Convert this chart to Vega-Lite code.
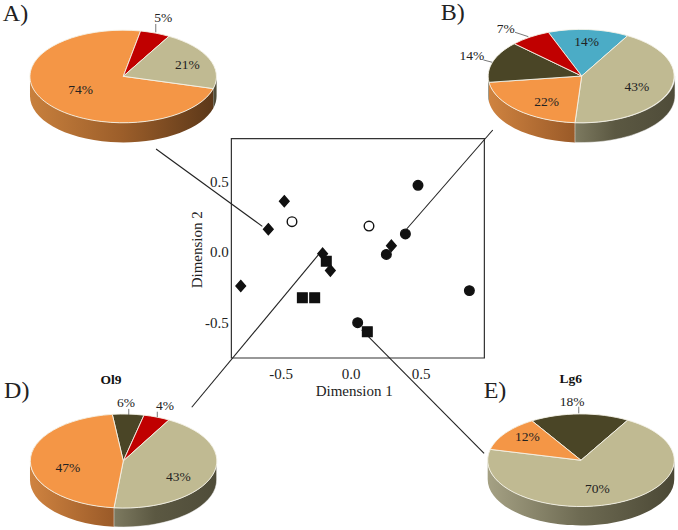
{
"$schema":"https://vega.github.io/schema/vega-lite/v6.json",
"width":678,"height":530,"padding":0,"autosize":{"type":"none"},"background":"white",
"config":{"view":{"stroke":null},"axis":{"grid":false,"labelFont":"Liberation Serif","titleFont":"Liberation Serif","labelFontSize":15,"titleFontSize":15,"titleFontWeight":"normal","labelColor":"#222","titleColor":"#222"}},
"encoding":{
"x":{"field":"dim1","type":"quantitative","scale":{"domain":[-2.5036,2.339],"nice":false,"zero":false},"axis":{"title":"Dimension 1","values":[-0.5,0,0.5],"format":".1f","labelExpr":"replace(datum.label,'\u2212','-')","offset":-172,"domain":false,"ticks":false,"labelPadding":8,"titlePadding":2,"labelFlush":false,"titleX":353.7}},
"y":{"field":"dim2","type":"quantitative","scale":{"domain":[-1.9716,1.787],"nice":false,"zero":false},"axis":{"title":"Dimension 2","values":[-0.5,0,0.5],"format":".1f","labelExpr":"replace(datum.label,'\u2212','-')","offset":-231.3,"domain":false,"ticks":false,"labelPadding":3,"titlePadding":0,"labelFlush":false,"titleY":249.3}}
},
"resolve":{"scale":{"shape":"independent","fill":"independent"}},
"layer":[
{"data":{"values":[{"dim1":-0.851,"dim2":0.804,"dim1b":0.956,"dim2b":-0.752}]},
 "mark":{"type":"rect","fill":null,"stroke":"#333","strokeWidth":1.2},
 "encoding":{"x2":{"field":"dim1b"},"y2":{"field":"dim2b"}}},
{"data":{"values":[
{"link":"A","dim1":-1.389,"dim2":0.73,"dim1b":-0.63,"dim2b":0.182},
{"link":"B","dim1":0.401,"dim2":0.163,"dim1b":1.016,"dim2b":0.865},
{"link":"D","dim1":-0.23,"dim2":-0.021,"dim1b":-1.134,"dim2b":-1.101},
{"link":"E","dim1":0.08,"dim2":-0.553,"dim1b":0.954,"dim2b":-1.428}]},
 "mark":{"type":"rule","stroke":"#222","strokeWidth":1.1},
 "encoding":{"x2":{"field":"dim1b"},"y2":{"field":"dim2b"}}},
{"data":{"values":[
{"group":"diamond","dim1":-0.587,"dim2":0.161},{"group":"diamond","dim1":-0.473,"dim2":0.36},{"group":"diamond","dim1":-0.784,"dim2":-0.241},{"group":"diamond","dim1":-0.199,"dim2":-0.012},{"group":"diamond","dim1":-0.144,"dim2":-0.132},{"group":"diamond","dim1":0.292,"dim2":0.045},
{"group":"square","dim1":-0.173,"dim2":-0.066},{"group":"square","dim1":-0.344,"dim2":-0.324},{"group":"square","dim1":-0.256,"dim2":-0.324},{"group":"square","dim1":0.12,"dim2":-0.565},
{"group":"circle","dim1":0.482,"dim2":0.473},{"group":"circle","dim1":0.392,"dim2":0.128},{"group":"circle","dim1":0.256,"dim2":-0.017},{"group":"circle","dim1":0.849,"dim2":-0.274},{"group":"circle","dim1":0.051,"dim2":-0.501},
{"group":"open","dim1":-0.418,"dim2":0.215},{"group":"open","dim1":0.132,"dim2":0.184}]},
 "mark":{"type":"point","filled":true,"opacity":1,"stroke":"#111","strokeWidth":1.4,"size":92},
 "encoding":{
  "shape":{"field":"group","type":"nominal","legend":null,"scale":{"domain":["diamond","square","circle","open"],"range":["M0,-1.15L1,0L0,1.15L-1,0Z","square","circle","circle"]}},
  "fill":{"field":"group","type":"nominal","legend":null,"scale":{"domain":["diamond","square","circle","open"],"range":["#111","#111","#111","#fff"]}}}},
{"data":{"values":[{"pie":"A","part":"orange","dim1":-1.623,"dim2":1.246}]},
 "mark":{"type":"point","opacity":1,"filled":true,"size":4,"shape":"M-93.3,0A93.3,46.3 0 0 0 90,12.3L90,32A93.3,46.3 0 0 1 -93.3,19.7Z","fill":{"gradient":"linear","x1":0,"y1":0,"x2":1,"y2":0,"stops":[{"offset":0,"color":"#c8803d"},{"offset":0.5,"color":"#9c5e2a"},{"offset":1,"color":"#5c3819"}]}}},
{"data":{"values":[{"pie":"A","part":"tan","dim1":-1.623,"dim2":1.246}]},
 "mark":{"type":"point","opacity":1,"filled":true,"size":4,"shape":"M90,12.3A93.3,46.3 0 0 0 93.3,0L93.3,19.7A93.3,46.3 0 0 1 90,32Z","fill":"#4f4c39"}},
{"data":{"values":[{"pie":"B","part":"orange","dim1":1.651,"dim2":1.248}]},
 "mark":{"type":"point","opacity":1,"filled":true,"size":4,"shape":"M-92.7,6.3A93.3,46.7 0 0 0 -6.7,46.7L-6.7,66.4A93.3,46.7 0 0 1 -92.7,26Z","fill":{"gradient":"linear","x1":0,"y1":0,"x2":1,"y2":0,"stops":[{"offset":0,"color":"#cf8340"},{"offset":1,"color":"#9a5a28"}]}}},
{"data":{"values":[{"pie":"B","part":"dark","dim1":1.651,"dim2":1.248}]},
 "mark":{"type":"point","opacity":1,"filled":true,"size":4,"shape":"M-93.3,0A93.3,46.7 0 0 0 -92.7,6.3L-92.7,26A93.3,46.7 0 0 1 -93.3,19.7Z","fill":"#5d5a45"}},
{"data":{"values":[{"pie":"B","part":"tan","dim1":1.651,"dim2":1.248}]},
 "mark":{"type":"point","opacity":1,"filled":true,"size":4,"stroke":"#eeeeee","strokeWidth":0.5,"shape":"M-6.7,46.7A93.3,46.7 0 0 0 93.3,0L93.3,19.7A93.3,46.7 0 0 1 -6.7,66.4Z","fill":{"gradient":"linear","x1":0,"y1":0,"x2":1,"y2":0,"stops":[{"offset":0,"color":"#7d7a60"},{"offset":0.4,"color":"#5b5842"},{"offset":1,"color":"#4f4c39"}]}}},
{"data":{"values":[{"pie":"D","part":"orange","dim1":-1.623,"dim2":-1.482}]},
 "mark":{"type":"point","opacity":1,"filled":true,"size":4,"shape":"M-93.3,0A93.3,47 0 0 0 -9.3,46.8L-9.3,65.8A93.3,47 0 0 1 -93.3,19Z","fill":{"gradient":"linear","x1":0,"y1":0,"x2":1,"y2":0,"stops":[{"offset":0,"color":"#cf8340"},{"offset":1,"color":"#9a5a28"}]}}},
{"data":{"values":[{"pie":"D","part":"tan","dim1":-1.623,"dim2":-1.482}]},
 "mark":{"type":"point","opacity":1,"filled":true,"size":4,"stroke":"#eeeeee","strokeWidth":0.5,"shape":"M-9.3,46.8A93.3,47 0 0 0 93.3,0L93.3,19A93.3,47 0 0 1 -9.3,65.8Z","fill":{"gradient":"linear","x1":0,"y1":0,"x2":1,"y2":0,"stops":[{"offset":0,"color":"#7d7a60"},{"offset":0.4,"color":"#5b5842"},{"offset":1,"color":"#4f4c39"}]}}},
{"data":{"values":[{"pie":"E","part":"tan","dim1":1.646,"dim2":-1.477}]},
 "mark":{"type":"point","opacity":1,"filled":true,"size":4,"shape":"M-93.3,0A93.3,46.3 0 0 0 93.3,0L93.3,19A93.3,46.3 0 0 1 -93.3,19Z","fill":{"gradient":"linear","x1":0,"y1":0,"x2":1,"y2":0,"stops":[{"offset":0,"color":"#a5a184"},{"offset":0.5,"color":"#6d6a52"},{"offset":1,"color":"#4b4835"}]}}},
{"data":{"values":[
{"wedge":"A-orange","part":"orange","share":74,"dim1":-1.623,"dim2":1.246},
{"wedge":"A-red","part":"red","share":5,"dim1":-1.623,"dim2":1.246},
{"wedge":"A-tan","part":"tan","share":21,"dim1":-1.623,"dim2":1.246},
{"wedge":"B-blue","part":"blue","share":14,"dim1":1.651,"dim2":1.248},
{"wedge":"B-tan","part":"tan","share":43,"dim1":1.651,"dim2":1.248},
{"wedge":"B-orange","part":"orange","share":22,"dim1":1.651,"dim2":1.248},
{"wedge":"B-dark","part":"dark","share":14,"dim1":1.651,"dim2":1.248},
{"wedge":"B-red","part":"red","share":7,"dim1":1.651,"dim2":1.248},
{"wedge":"D-dark","part":"dark","share":6,"dim1":-1.623,"dim2":-1.482},
{"wedge":"D-red","part":"red","share":4,"dim1":-1.623,"dim2":-1.482},
{"wedge":"D-tan","part":"tan","share":43,"dim1":-1.623,"dim2":-1.482},
{"wedge":"D-orange","part":"orange","share":47,"dim1":-1.623,"dim2":-1.482},
{"wedge":"E-dark","part":"dark","share":18,"dim1":1.646,"dim2":-1.477},
{"wedge":"E-tan","part":"tan","share":70,"dim1":1.646,"dim2":-1.477},
{"wedge":"E-orange","part":"orange","share":12,"dim1":1.646,"dim2":-1.477}]},
 "mark":{"type":"point","opacity":1,"filled":true,"size":4,"stroke":"#f4f2e6","strokeWidth":0.9},
 "encoding":{
 "shape":{"field":"wedge","type":"nominal","legend":null,"scale":{"domain":["A-orange","A-red","A-tan","B-blue","B-tan","B-orange","B-dark","B-red","D-dark","D-red","D-tan","D-orange","E-dark","E-tan","E-orange"],
 "range":[
 "M0,0L90,12.3A93.3,46.3 0 1 1 17.3,-45.3Z",
 "M0,0L17.3,-45.3A93.3,46.3 0 0 1 45.7,-40Z",
 "M0,0L45.7,-40A93.3,46.3 0 0 1 90,12.3Z",
 "M0,0L-33.3,-43.7A93.3,46.7 0 0 1 46,-40.3Z",
 "M0,0L46,-40.3A93.3,46.7 0 0 1 -6.7,46.7Z",
 "M0,0L-6.7,46.7A93.3,46.7 0 0 1 -92.7,6.3Z",
 "M0,0L-92.7,6.3A93.3,46.7 0 0 1 -67.3,-32.3Z",
 "M0,0L-67.3,-32.3A93.3,46.7 0 0 1 -33.3,-43.7Z",
 "M0,0L-11,-46.6A93.3,47 0 0 1 20.7,-45.8Z",
 "M0,0L20.7,-45.8A93.3,47 0 0 1 45.7,-41Z",
 "M0,0L45.7,-41A93.3,47 0 0 1 -9.3,46.8Z",
 "M0,0L-9.3,46.8A93.3,47 0 0 1 -11,-46.6Z",
 "M0,0L-49,-39.4A93.3,46.3 0 0 1 46.7,-40.1Z",
 "M0,0L46.7,-40.1A93.3,46.3 0 1 1 -90.7,-10.9Z",
 "M0,0L-90.7,-10.9A93.3,46.3 0 0 1 -49,-39.4Z"]}},
 "fill":{"field":"part","type":"nominal","legend":null,"scale":{"domain":["orange","tan","red","dark","blue"],"range":["#f49646","#c0ba92","#c00000","#4a4526","#4bacc6"]}}}},
{"data":{"values":[
{"leader":"A5","dim1":-1.391,"dim2":1.617,"dim1b":-1.391,"dim2b":1.558},
{"leader":"B7","dim1":1.175,"dim2":1.558,"dim1b":1.27,"dim2b":1.527},
{"leader":"B14","dim1":0.949,"dim2":1.362,"dim1b":1.013,"dim2b":1.345},
{"leader":"D6","dim1":-1.584,"dim2":-1.113,"dim1b":-1.584,"dim2b":-1.156},
{"leader":"D4","dim1":-1.38,"dim2":-1.133,"dim1b":-1.38,"dim2b":-1.172},
{"leader":"E18","dim1":1.63,"dim2":-1.097,"dim1b":1.63,"dim2b":-1.144}]},
 "mark":{"type":"rule","stroke":"#555","strokeWidth":0.8},
 "encoding":{"x2":{"field":"dim1b"},"y2":{"field":"dim2b"}}},
{"data":{"values":[
{"label":"74%","dim1":-1.927,"dim2":1.149},{"label":"21%","dim1":-1.166,"dim2":1.324},{"label":"5%","dim1":-1.337,"dim2":1.66},
{"label":"14%","dim1":1.687,"dim2":1.487},{"label":"43%","dim1":2.046,"dim2":1.172},{"label":"22%","dim1":1.401,"dim2":1.064},{"label":"7%","dim1":1.109,"dim2":1.584},{"label":"14%","dim1":0.866,"dim2":1.39},
{"label":"47%","dim1":-2.018,"dim2":-1.534},{"label":"43%","dim1":-1.23,"dim2":-1.594},{"label":"6%","dim1":-1.604,"dim2":-1.069},{"label":"4%","dim1":-1.325,"dim2":-1.09},
{"label":"12%","dim1":1.263,"dim2":-1.314},{"label":"70%","dim1":1.763,"dim2":-1.681},{"label":"18%","dim1":1.582,"dim2":-1.062}]},
 "mark":{"type":"text","font":"Liberation Serif","fontSize":13.5,"fill":"#222","align":"center","baseline":"middle"},
 "encoding":{"text":{"field":"label"}}},
{"data":{"values":[{"label":"Ol9","dim1":-1.711,"dim2":-0.908},{"label":"Lg6","dim1":1.573,"dim2":-0.903}]},
 "mark":{"type":"text","font":"Liberation Serif","fontSize":13.5,"fontWeight":"bold","fill":"#111","align":"center","baseline":"middle"},
 "encoding":{"text":{"field":"label"}}},
{"data":{"values":[{"label":"A)","dim1":-2.393,"dim2":1.688},{"label":"B)","dim1":0.73,"dim2":1.697},{"label":"D)","dim1":-2.384,"dim2":-0.984},{"label":"E)","dim1":1.032,"dim2":-0.984}]},
 "mark":{"type":"text","font":"Liberation Serif","fontSize":24,"fill":"#222","align":"center","baseline":"middle"},
 "encoding":{"text":{"field":"label"}}}
]}
